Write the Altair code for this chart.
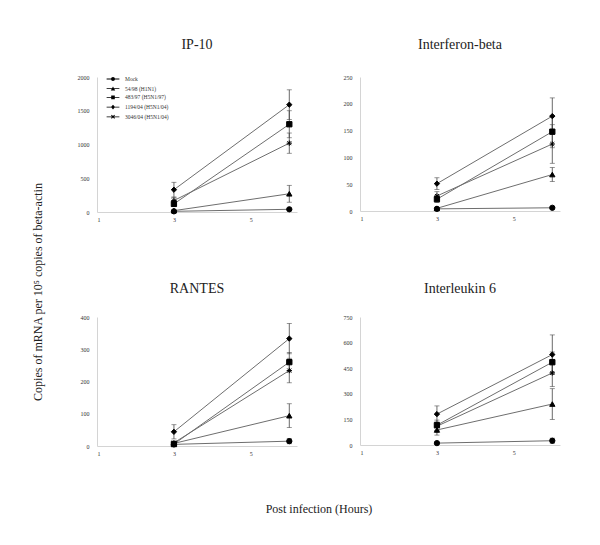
import altair as alt
import pandas as pd

SERIF = "Liberation Serif"

hours = [3, 6]
series = ["Mock", "54/98 (H1N1)", "483/97 (H5N1/97)", "1194/04 (H5N1/04)", "3046/04 (H5N1/04)"]

# IP-10
ip10_mean = [[10, 40], [20, 270], [120, 1300], [330, 1590], [170, 1020]]
ip10_err = [[5, 10], [10, 125], [40, 200], [110, 220], [50, 150]]
# Interferon-beta
ifn_mean = [[4, 6], [5, 68], [22, 148], [51, 177], [28, 125]]
ifn_err = [[1, 2], [2, 13], [6, 30], [11, 34], [8, 36]]
# RANTES
rantes_mean = [[5, 15], [8, 94], [6, 260], [44, 333], [10, 234]]
rantes_err = [[2, 8], [3, 37], [3, 30], [22, 47], [5, 38]]
# Interleukin 6
il6_mean = [[11, 25], [88, 240], [116, 485], [181, 530], [110, 422]]
il6_err = [[5, 15], [30, 90], [30, 60], [48, 115], [25, 80]]

x_ticks = [1, 3, 5]
ip10_ticks = [0, 500, 1000, 1500, 2000]
ifn_ticks = [0, 50, 100, 150, 200, 250]
rantes_ticks = [0, 100, 200, 300, 400]
il6_ticks = [0, 150, 300, 450, 600, 750]

y_label = "Copies of mRNA per 10\u2075 copies of beta-actin"
x_label = "Post infection (Hours)"

shapes = [
    "circle",
    "triangle-up",
    "square",
    "diamond",
    "M-1,0L1,0M0,-1L0,1M-0.75,-0.75L0.75,0.75M-0.75,0.75L0.75,-0.75",
]
BAR = "M-3.2,-0.2L3.2,-0.2L3.2,0.2L-3.2,0.2Z"
legend_shapes = [
    BAR + "M-1,0A1,1 0 1 1 1,0A1,1 0 1 1 -1,0Z",
    BAR + "M0,-1.1L1.1,0.9L-1.1,0.9Z",
    BAR + "M-0.9,-0.9L0.9,-0.9L0.9,0.9L-0.9,0.9Z",
    BAR + "M0,-1.2L1,0L0,1.2L-1,0Z",
    BAR + "M-0.62,-0.98L0.98,0.62L0.62,0.98L-0.98,-0.62Z"
          "M0.62,-0.98L0.98,-0.62L-0.62,0.98L-0.98,0.62Z",
]


def make_df(means, errs):
    rows = []
    for s, m, e in zip(series, means, errs):
        for h, v, er in zip(hours, m, e):
            rows.append({"series": s, "hour": h, "value": v, "lo": max(v - er, 0), "hi": v + er})
    return pd.DataFrame(rows)


def panel(title, means, errs, ticks, height, title_offset, legend=False):
    df = make_df(means, errs)
    base = alt.Chart(df)
    xscale = alt.Scale(domain=[1, 6.2], nice=False)
    yscale = alt.Scale(domain=[ticks[0], ticks[-1]], nice=False)
    xaxis = alt.Axis(values=x_ticks, title=None, grid=False, labelPadding=4,
                     tickSize=0, domainColor="#d4d4d4", labelOverlap=False)
    yaxis = alt.Axis(values=ticks, title=None, grid=False, tickSize=0, format="d",
                     labelPadding=8, domainColor="#d4d4d4", labelOverlap=False)

    def X():
        return alt.X("hour:Q", scale=xscale, axis=xaxis)

    def Y(f):
        return alt.Y(f + ":Q", scale=yscale, axis=yaxis)

    lines = base.mark_line(color="#6e6e6e", strokeWidth=1).encode(
        x=X(), y=Y("value"), detail="series:N")
    rules = base.mark_rule(color="#444444", strokeWidth=0.8).encode(
        x=X(), y=Y("lo"), y2="hi:Q")
    cap_lo = base.mark_tick(orient="horizontal", size=5, thickness=0.8, color="#444444").encode(
        x=X(), y=Y("lo"))
    cap_hi = base.mark_tick(orient="horizontal", size=5, thickness=0.8, color="#444444").encode(
        x=X(), y=Y("hi"))
    pts = base.mark_point(filled=True, fill="black", stroke="black", strokeWidth=1, size=28,
                          opacity=1).encode(
        x=X(), y=Y("value"),
        shape=alt.Shape("series:N", scale=alt.Scale(domain=series, range=shapes), legend=None))
    layers = [lines, rules, cap_lo, cap_hi, pts]
    if legend:
        leg = base.mark_point(filled=True, fill="black", opacity=0, size=16).encode(
            x=X(), y=Y("value"),
            shape=alt.Shape("series:N", scale=alt.Scale(domain=series, range=legend_shapes),
                            legend=alt.Legend(title=None, orient="none", legendX=13, legendY=-1,
                                              symbolSize=16, symbolFillColor="black",
                                              symbolOpacity=1, labelFont=SERIF, labelFontSize=5.5,
                                              labelColor="#333333", labelOffset=9, rowPadding=-1.3,
                                              padding=0)))
        layers.append(leg)
    ch = alt.layer(*layers).resolve_scale(shape="independent").properties(
        width=200, height=height,
        title=alt.TitleParams(title, font=SERIF, fontSize=14, fontWeight="normal",
                              color="#222222", offset=title_offset),
    )
    return ch


p1 = panel("IP-10", ip10_mean, ip10_err, ip10_ticks, 135, 22, legend=True)
p2 = panel("Interferon-beta", ifn_mean, ifn_err, ifn_ticks, 134, 22)
p3 = panel("RANTES", rantes_mean, rantes_err, rantes_ticks, 129, 18)
p4 = panel("Interleukin 6", il6_mean, il6_err, il6_ticks, 128, 18)

grid = alt.vconcat(
    alt.hconcat(p1, p2, spacing=46).resolve_scale(shape="independent"),
    alt.hconcat(p3, p4, spacing=46).resolve_scale(shape="independent"),
    spacing=60,
).resolve_scale(shape="independent")

ylab = alt.Chart(alt.Data(values=[{"t": y_label}])).mark_text(
    angle=270, font=SERIF, fontSize=12, color="#222222", align="center", baseline="middle"
).encode(text="t:N", x=alt.value(30), y=alt.value(215)).properties(width=40, height=400)

chart = alt.hconcat(ylab, grid, spacing=29).resolve_scale(shape="independent").properties(
    title=alt.TitleParams(x_label, orient="bottom", anchor="middle", font=SERIF, fontSize=12,
                          fontWeight="normal", color="#222222", offset=27, dx=35),
    padding={"top": 30, "left": 0, "right": 5, "bottom": 5},
).configure_view(stroke=None).configure_axis(
    labelFont=SERIF, labelFontSize=6, labelColor="#333333"
)

chart.save("out.html", embed_options={"renderer": "svg", "actions": False})
